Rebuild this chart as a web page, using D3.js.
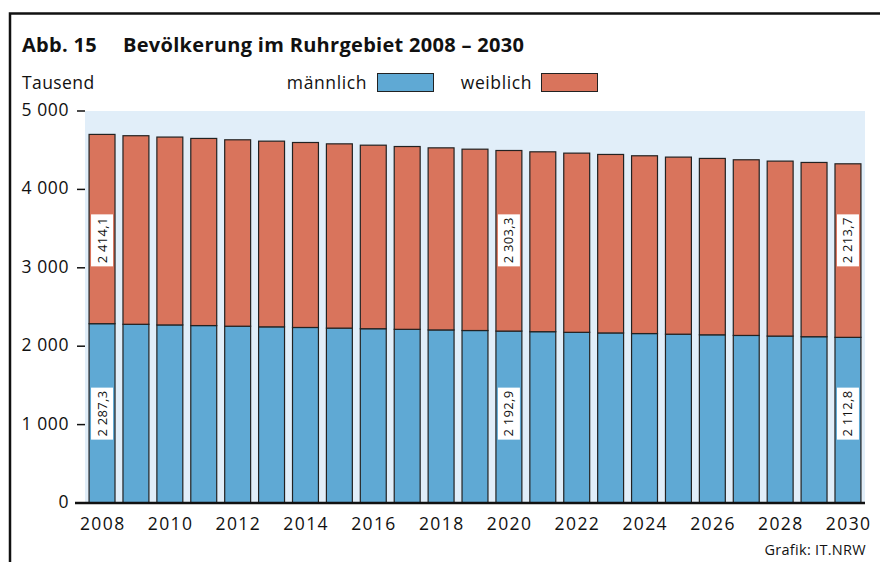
<!DOCTYPE html>
<html><head><meta charset="utf-8">
<script src="https://cdn.jsdelivr.net/npm/d3@7"></script>
<style>body{margin:0;background:#fff}svg{display:block}text{font-family:"Open Sans","Noto Sans",sans-serif;fill:#111}</style>
</head><body>
<svg id="c" width="880" height="562"></svg>
<script>
const years = d3.range(2008, 2031);
const maleValues = [2287.3, 2279.5, 2271.4, 2263.2, 2255.0, 2246.9, 2238.8, 2230.8, 2223.0, 2215.2, 2207.5, 2200.1, 2192.9, 2185.0, 2177.1, 2169.2, 2161.3, 2153.3, 2145.3, 2137.2, 2129.1, 2121.0, 2112.8];
const femaleValues = [2414.1, 2405.2, 2396.1, 2386.9, 2377.7, 2368.5, 2359.4, 2350.2, 2341.0, 2331.8, 2322.5, 2312.9, 2303.3, 2294.4, 2285.5, 2276.6, 2267.6, 2258.6, 2249.7, 2240.7, 2231.7, 2222.7, 2213.7];
const yTicks = [0, 1000, 2000, 3000, 4000, 5000];
const yTickLabels = ["0", "1 000", "2 000", "3 000", "4 000", "5 000"];
const xTickYears = [2008, 2010, 2012, 2014, 2016, 2018, 2020, 2022, 2024, 2026, 2028, 2030];
const labeledYears = [2008, 2020, 2030];
const seriesNames = ["männlich", "weiblich"];
const colors = ["#5fa9d4", "#d9745c"];

const fmt = v => { const s = v.toFixed(1).replace(".", ","); const [i, d] = s.split(","); return i.replace(/\B(?=(\d{3})+(?!\d))/g, " ") + "," + d; };

const svg = d3.select("#c");
const L = 85, R = 865, T = 111, B = 503;
const x = d3.scaleBand().domain(years).range([L, R]).paddingInner(0.235).paddingOuter(0.12);
const y = d3.scaleLinear().domain([0, 5000]).range([B, T]);

// frame
svg.append("rect").attr("x", 10).attr("y", 13.5).attr("width", 900).attr("height", 600)
  .attr("fill", "none").attr("stroke", "#111").attr("stroke-width", 2.5);

// title
svg.append("text").attr("x", 22).attr("y", 52).attr("font-size", 20).attr("letter-spacing", 0.3).attr("font-weight", 700).text("Abb. 15");
svg.append("text").attr("x", 123).attr("y", 52).attr("font-size", 20).attr("letter-spacing", 0.3).attr("font-weight", 700).text("Bevölkerung im Ruhrgebiet 2008 – 2030");
svg.append("text").attr("x", 22).attr("y", 89).attr("font-size", 17.5).attr("letter-spacing", 0.4).text("Tausend");

// legend
const legend = [{x: 367, bx: 377}, {x: 532, bx: 541}];
seriesNames.forEach((n, i) => {
  svg.append("text").attr("x", legend[i].x).attr("y", 89).attr("font-size", 17.5).attr("letter-spacing", 0.6).attr("text-anchor", "end").text(n);
  svg.append("rect").attr("x", legend[i].bx + 0.5).attr("y", 73.5).attr("width", 56).attr("height", 18)
    .attr("fill", colors[i]).attr("stroke", "#222").attr("stroke-width", 1);
});

// plot background
svg.append("rect").attr("x", L).attr("y", T).attr("width", R - L).attr("height", B - T).attr("fill", "#e1eef9");

// bars
const data = years.map((yr, i) => ({year: yr, m: maleValues[i], f: femaleValues[i]}));
const g = svg.append("g");
data.forEach(d => {
  g.append("rect").attr("x", x(d.year)).attr("y", y(d.m)).attr("width", x.bandwidth()).attr("height", y(0) - y(d.m))
    .attr("fill", colors[0]).attr("stroke", "#222").attr("stroke-width", 1.2);
  g.append("rect").attr("x", x(d.year)).attr("y", y(d.m + d.f)).attr("width", x.bandwidth()).attr("height", y(d.m) - y(d.m + d.f))
    .attr("fill", colors[1]).attr("stroke", "#222").attr("stroke-width", 1.2);
});

// value labels
const labelPos = [1140, 3350];
data.filter(d => labeledYears.includes(d.year)).forEach(d => {
  [[d.m, labelPos[0]], [d.f, labelPos[1]]].forEach(([v, p]) => {
    const cx = x(d.year) + x.bandwidth() / 2, cy = y(p);
    svg.append("rect").attr("x", cx - 11).attr("y", cy - 26).attr("width", 22).attr("height", 52).attr("fill", "#fff");
    svg.append("text").attr("transform", `translate(${cx + 4.5},${cy}) rotate(-90)`).attr("text-anchor", "middle")
      .attr("font-size", 13).attr("letter-spacing", 0.3).text(fmt(v));
  });
});

// y axis ticks
yTicks.forEach((t, i) => {
  svg.append("line").attr("x1", 77).attr("x2", 85).attr("y1", y(t)).attr("y2", y(t)).attr("stroke", "#111").attr("stroke-width", 1.5);
  svg.append("text").attr("x", 69).attr("y", y(t) + 5).attr("text-anchor", "end").attr("font-size", 17.5).attr("letter-spacing", 0.6).text(yTickLabels[i]);
});
// baseline
svg.append("line").attr("x1", 75).attr("x2", R).attr("y1", B).attr("y2", B).attr("stroke", "#111").attr("stroke-width", 2.5);

// x labels
xTickYears.forEach(yr => {
  svg.append("text").attr("x", x(yr) + x.bandwidth() / 2 + 0.7).attr("y", 530).attr("text-anchor", "middle").attr("font-size", 17.5).attr("letter-spacing", 1.4).text(yr);
});

svg.append("text").attr("x", 866).attr("y", 555).attr("text-anchor", "end").attr("font-size", 14.5).attr("letter-spacing", 0.3).text("Grafik: IT.NRW");
</script>
</body></html>
